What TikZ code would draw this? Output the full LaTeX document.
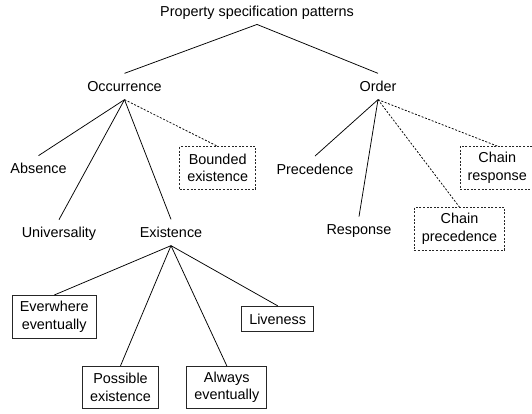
\documentclass[tikz,border=0pt]{standalone}
\usepackage{fontspec}
\setmainfont{Liberation Sans}
\begin{document}
\begin{tikzpicture}[x=1pt,y=-1pt,
  txt/.style={font=\fontsize{14.4}{17.5}\selectfont, text height=10.3pt,
    text depth=0pt, inner xsep=2pt, inner ysep=7.8pt},
  box/.style={draw=black!85, line width=0.8pt, font=\fontsize{14.4}{17.5}\selectfont,
    align=center, inner xsep=7.5pt, inner ysep=0pt, minimum height=42.5pt},
  dbox/.style={box, dash pattern=on 2pt off 1.6pt},
  edge/.style={line width=0.75pt},
  dedge/.style={edge, dash pattern=on 2pt off 1.6pt}]
  \clip (0,0) rectangle (532,414);
  \path[use as bounding box] (0,0) rectangle (532,414);

  % category labels
  \node[txt] (root) at (257,11.3) {Property specification patterns};
  \node[txt] (occ) at (124.5,86.5) {Occurrence};
  \node[txt] (ord) at (378,86.5) {Order};
  \node[txt] (abs) at (38.5,168.8) {Absence};
  \node[txt] (uni) at (59,232.8) {Universality};
  \node[txt] (exi) at (171,232.5) {Existence};
  \node[txt] (pre) at (315,169.2) {Precedence};
  \node[txt] (res) at (359,229.7) {Response};

  % dashed boxes
  \node[dbox] (bex) at (217.7,168) {Bounded\\existence};
  \node[dbox] (cre) at (497.2,167.7) {Chain\\response};
  \node[dbox] (cpr) at (459.5,228.8) {Chain\\precedence};

  % solid boxes
  \node[box] (eve) at (54.2,316.7) {Everwhere\\eventually};
  \node[box] (pos) at (120.5,387.5) {Possible\\existence};
  \node[box] (alw) at (226.8,387.5) {Always\\eventually};
  \node[box, minimum height=25.5pt] (liv) at (277.7,319) {Liveness};

  % tree edges
  \draw[edge] (root.south) -- (occ.north);
  \draw[edge] (root.south) -- (ord.north);
  \draw[edge] (occ.south) -- (abs.north);
  \draw[edge] (occ.south) -- (uni.north);
  \draw[edge] (occ.south) -- (exi.north);
  \draw[dedge] (occ.south) -- (bex.north);
  \draw[edge] (ord.south) -- (pre.north);
  \draw[edge] (ord.south) -- (res.north);
  \draw[dedge] (ord.south) -- (cpr.north);
  \draw[dedge] (ord.south) -- (cre.north);
  \draw[edge] (exi.south) -- (eve.north);
  \draw[edge] (exi.south) -- (pos.north);
  \draw[edge] (exi.south) -- (alw.north);
  \draw[edge] (exi.south) -- (liv.north);
\end{tikzpicture}
\end{document}
